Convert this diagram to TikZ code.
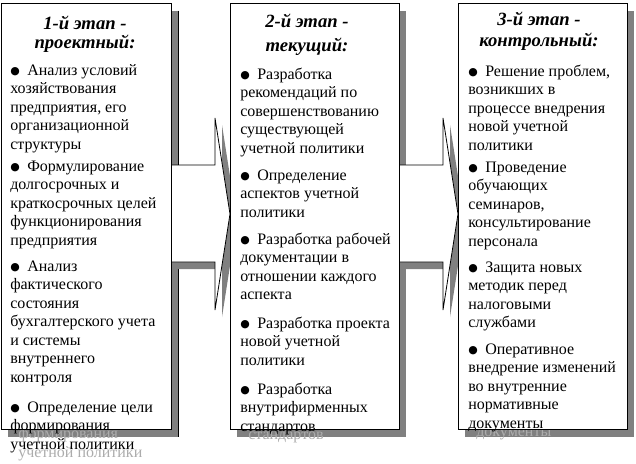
\documentclass[tikz,border=0pt]{standalone}
\usepackage{fontspec}
\setmainfont{Liberation Serif}
\newfontfamily\symfnt{DejaVu Sans}
\definecolor{shadowgray}{RGB}{128,128,128}
\definecolor{ghostgray}{RGB}{172,172,172}
\newcommand{\bul}{\makebox[12.75pt][l]{\raisebox{0.6pt}{\symfnt\scalebox{0.68}{●}}}}
\newcommand{\itemtext}[1]{\parbox[t]{160pt}{\raggedright #1}}
\tikzset{
  boxshape/.style={draw=black, fill=white, line width=0.75pt, rectangle, anchor=north west, inner sep=0pt},
  shadeshape/.style={fill=shadowgray, draw=none, rectangle, anchor=north west, inner sep=0pt},
  arrowshape/.style={draw=black, fill=white, line width=0.6pt, line join=miter},
  arrowshade/.style={fill=shadowgray, draw=none},
  itemnode/.style={anchor=base west, inner sep=0pt, font=\fontsize{12pt}{13.9pt}\selectfont},
  ghostnode/.style={itemnode, text=ghostgray},
  headnode/.style={anchor=base, inner sep=0pt, font=\fontsize{14pt}{16pt}\selectfont\bfseries\itshape},
}
\begin{document}
\begin{tikzpicture}[x=0.75pt,y=-0.75pt]
\useasboundingbox (0,0) rectangle (636,464);
% box shadows
\node[shadeshape, minimum width=127.5pt, minimum height=319.5pt] (s1) at (8,10.5) {};
\node[shadeshape, minimum width=126.75pt, minimum height=319.5pt] (s2) at (237,10.5) {};
\node[shadeshape, minimum width=126.75pt, minimum height=319.5pt] (s3) at (465,10.5) {};
\draw[line width=0.6pt] (s1.north east) -- (s1.south east);
% arrow shadows
\fill[arrowshade] (178,172) -- (222,172) -- (222,125) -- (237,221) -- (222,317) -- (222,269) -- (178,269) -- cycle;
\fill[arrowshade] (405,172) -- (450,172) -- (450,125) -- (465,221) -- (450,317) -- (450,269) -- (405,269) -- cycle;
% arrows
\draw[arrowshape] (171,165) -- (215,165) -- (215,118) -- (230,214) -- (215,310) -- (215,262) -- (171,262) -- cycle;
\draw[arrowshape] (399,165) -- (443,165) -- (443,118) -- (458,214) -- (443,310) -- (443,262) -- (399,262) -- cycle;
% boxes
\node[boxshape, minimum width=127.5pt, minimum height=319.5pt] (b1) at (1,3) {};
\node[boxshape, minimum width=126.75pt, minimum height=319.5pt] (b2) at (230,3) {};
\node[boxshape, minimum width=126.75pt, minimum height=319.5pt] (b3) at (458,3) {};
% ghost (shadow) text below boxes
\begin{scope}
\clip (0,430) rectangle (636,464);
\node[ghostnode] (g1) at (18,420) {\itemtext{\bul Определение цели\\формирования\\учетной политики}};
\node[ghostnode] (g2) at (248,402) {\itemtext{\bul Разработка\\внутрифирменных\\стандартов}};
\node[ghostnode] (g3) at (476,362) {\itemtext{\bul Оперативное\\внедрение изменений\\во внутренние\\нормативные\\документы}};
\end{scope}
% headings
\node[headnode] (h1a) at (85,29) {1-й этап -};
\node[headnode] (h1b) at (85,48) {проектный:};
\node[headnode] (h2a) at (307,27) {2-й этап -};
\node[headnode] (h2b) at (307,51) {текущий:};
\node[headnode] (h3a) at (539,26) {3-й этап -};
\node[headnode] (h3b) at (539,46) {контрольный:};
% box 1 items
\node[itemnode] (t11) at (10,75) {\itemtext{\bul Анализ условий\\хозяйствования\\предприятия, его\\организационной\\структуры}};
\node[itemnode] (t12) at (10,171) {\itemtext{\bul Формулирование\\долгосрочных и\\краткосрочных целей\\функционирования\\предприятия}};
\node[itemnode] (t13) at (10,271) {\itemtext{\bul Анализ\\фактического\\состояния\\бухгалтерского учета\\и системы\\внутреннего\\контроля}};
\node[itemnode] (t14) at (10,412) {\itemtext{\bul Определение цели\\формирования\\учетной политики}};
% box 2 items
\node[itemnode] (t21) at (240,79) {\itemtext{\bul Разработка\\рекомендаций по\\совершенствованию\\существующей\\учетной политики}};
\node[itemnode] (t22) at (240,180) {\itemtext{\bul Определение\\аспектов учетной\\политики}};
\node[itemnode] (t23) at (240,244) {\itemtext{\bul Разработка рабочей\\документации в\\отношении каждого\\аспекта}};
\node[itemnode] (t24) at (240,328) {\itemtext{\bul Разработка проекта\\новой учетной\\политики}};
\node[itemnode] (t25) at (240,394) {\itemtext{\bul Разработка\\внутрифирменных\\стандартов}};
% box 3 items
\node[itemnode] (t31) at (468,76) {\itemtext{\bul Решение проблем,\\возникших в\\процессе внедрения\\новой учетной\\политики}};
\node[itemnode] (t32) at (468,172) {\itemtext{\bul Проведение\\обучающих\\семинаров,\\консультирование\\персонала}};
\node[itemnode] (t33) at (468,272) {\itemtext{\bul Защита новых\\методик перед\\налоговыми\\службами}};
\node[itemnode] (t34) at (468,354) {\itemtext{\bul Оперативное\\внедрение изменений\\во внутренние\\нормативные\\документы}};
\end{tikzpicture}
\end{document}
